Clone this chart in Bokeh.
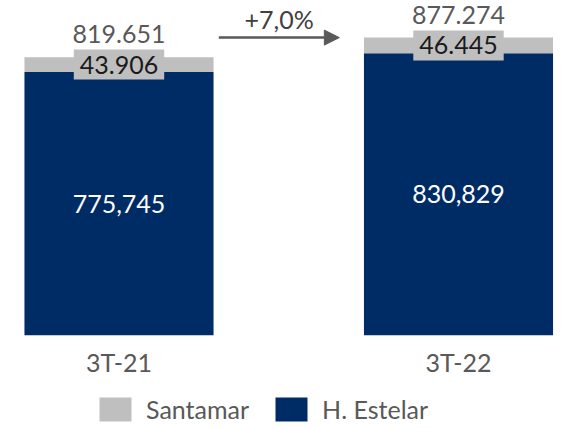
from bokeh.plotting import figure
from bokeh.models import (ColumnDataSource, Label, Legend, LegendItem,
                          FixedTicker, Arrow, NormalHead, Range1d, LinearAxis)
from bokeh.core.properties import value
from bokeh.embed import file_html
from bokeh.resources import INLINE

categories = ["3T-21", "3T-22"]
estelar = [775.745, 830.829]
santamar = [43.906, 46.445]
totals = [819.651, 877.274]
estelar_labels = ["775,745", "830,829"]
santamar_labels = ["43.906", "46.445"]
total_labels = ["819.651", "877.274"]
growth_label = "+7,0%"

NAVY = "#002C66"
GRAY = "#BFBFBF"
TXT = "#595959"
FONT = "Lato"

xs = list(range(len(categories)))
src = ColumnDataSource(dict(
    x=xs, estelar=estelar, santamar=santamar, total=totals,
    mid_e=[e / 2 for e in estelar],
    mid_s=[e + s / 2 for e, s in zip(estelar, santamar)],
    lab_e=estelar_labels, lab_s=santamar_labels, lab_t=total_labels,
))

p = figure(width=562, height=428, output_backend="svg", toolbar_location=None,
           x_range=Range1d(-0.3255, 1.2828), y_range=Range1d(-275.1, 986.7),
           x_axis_location=None, y_axis_location=None,
           min_border=0, min_border_left=8, min_border_right=8,
           min_border_top=0, min_border_bottom=0)
p.outline_line_color = None
p.grid.visible = False

rs = p.vbar_stack(["estelar", "santamar"], x="x", width=0.557, source=src,
                  color=[NAVY, GRAY], line_color=None)

ax = LinearAxis(fixed_location=0)
ax.ticker = FixedTicker(ticks=xs)
ax.major_label_overrides = {i: c for i, c in zip(xs, categories)}
ax.axis_line_color = None
ax.major_tick_line_color = None
ax.minor_tick_line_color = None
ax.major_label_text_font = FONT
ax.major_label_text_font_size = "25px"
ax.major_label_text_color = TXT
ax.major_label_standoff = 6
p.add_layout(ax, "below")

p.text(x="x", y="mid_e", text="lab_e", source=src,
       text_align="center", text_baseline="middle",
       text_color="white", text_font=value(FONT), text_font_size="25px")
p.text(x="x", y="mid_s", text="lab_s", source=src,
       text_align="center", text_baseline="middle",
       text_color="#1A1A1A", text_font=value(FONT), text_font_size="25px",
       background_fill_color=GRAY, padding=6)
p.text(x="x", y="total", text="lab_t", source=src, y_offset=-23,
       text_align="center", text_baseline="alphabetic",
       text_color=TXT, text_font=value(FONT), text_font_size="25px")

x0, x1 = 0.294, 0.649
p.add_layout(Arrow(x_start=x0, y_start=totals[1], x_end=x1, y_end=totals[1],
                   line_color=TXT, line_width=2.5,
                   end=NormalHead(size=15, fill_color=TXT, line_color=TXT)))
p.add_layout(Label(x=(x0 + x1) / 2, y=totals[1], y_offset=19, text=growth_label,
                   text_align="center", text_baseline="alphabetic",
                   text_color="#404040", text_font=FONT, text_font_size="25px"))

legend = Legend(items=[LegendItem(label="Santamar", renderers=[rs[1]]),
                       LegendItem(label="H. Estelar", renderers=[rs[0]])],
                orientation="horizontal", location=(87, 4),
                glyph_width=40, glyph_height=30, label_standoff=11, spacing=22,
                label_text_font=FONT, label_text_font_size="25px",
                label_text_color=TXT, padding=0, margin=0,
                border_line_color=None, background_fill_color=None)
p.add_layout(legend)

open("out.html", "w").write(file_html(p, INLINE))
